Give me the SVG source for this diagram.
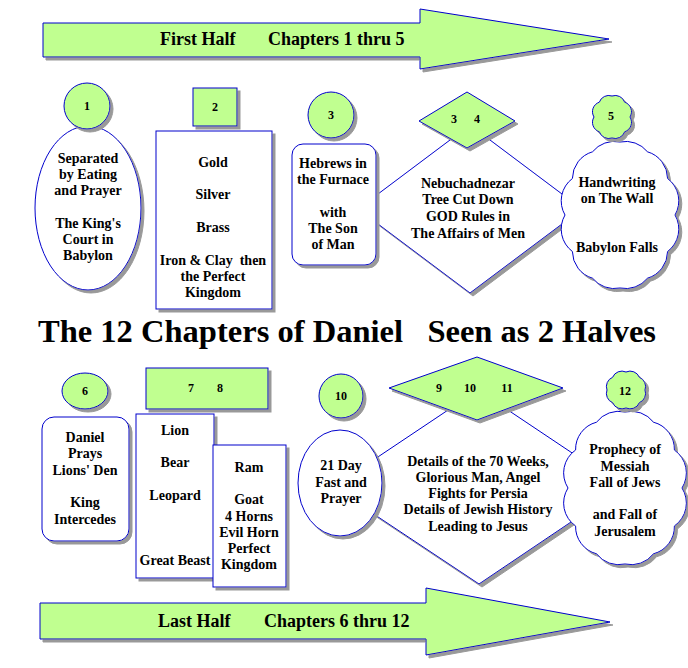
<svg xmlns="http://www.w3.org/2000/svg" width="688" height="668" viewBox="0 0 688 668">
<style>
.g{fill:#c0ff90;stroke:#0000cc;stroke-width:1;filter:url(#sh)}
.w{fill:#ffffff;stroke:#0000cc;stroke-width:1;filter:url(#sh)}
text{font-family:"Liberation Serif","Times New Roman",serif;font-weight:bold;fill:#000}
.t{font-size:14px;text-anchor:middle}
.n{font-size:12px;text-anchor:middle}
.a{font-size:18px}
</style>
<defs>
<filter id="sh" x="-10%" y="-10%" width="130%" height="130%">
<feOffset in="SourceAlpha" dx="3" dy="3" result="o"/>
<feFlood flood-color="#999999"/>
<feComposite in2="o" operator="in" result="s"/>
<feMerge><feMergeNode in="s"/><feMergeNode in="SourceGraphic"/></feMerge>
</filter>
</defs>
<rect width="688" height="668" fill="#ffffff"/>

<g id="arrow-first">
<path class="g" d="M43,23 H420 V9 L609,39 L420,69 V57 H43 Z"/>
<text class="a" x="160" y="45">First Half</text>
<text class="a" x="268" y="45">Chapters 1 thru 5</text>
</g>

<g id="node1">
<ellipse class="w" cx="88" cy="208" rx="53" ry="82"/>
<circle class="g" cx="87" cy="106" r="23"/>
<text class="n" x="87" y="110">1</text>
<text class="t" x="88" y="163">Separated</text>
<text class="t" x="88" y="179">by Eating</text>
<text class="t" x="88" y="195">and Prayer</text>
<text class="t" x="88" y="228">The King's</text>
<text class="t" x="88" y="244">Court in</text>
<text class="t" x="88" y="260">Babylon</text>
</g>

<g id="node2">
<rect class="g" x="193" y="88" width="44" height="38"/>
<text class="n" x="215" y="111">2</text>
<rect class="w" x="156" y="131" width="116" height="178"/>
<text class="t" x="213" y="167">Gold</text>
<text class="t" x="213" y="199">Silver</text>
<text class="t" x="213" y="232">Brass</text>
<text class="t" x="213" y="265" xml:space="preserve">Iron &amp; Clay  then</text>
<text class="t" x="213" y="281">the Perfect</text>
<text class="t" x="213" y="297">Kingdom</text>
</g>

<g id="node4">
<path class="w" d="M470,125 L582,209 L470,293 L358,209 Z"/>
<path class="g" d="M467,92 L515,121 L467,148 L419,121 Z"/>
<text class="n" x="454" y="123">3</text>
<text class="n" x="477" y="123">4</text>
<text class="t" x="468" y="188">Nebuchadnezar</text>
<text class="t" x="468" y="204">Tree Cut Down</text>
<text class="t" x="468" y="221">GOD Rules in</text>
<text class="t" x="468" y="238">The Affairs of Men</text>
</g>

<g id="node3">
<circle class="g" cx="331" cy="115" r="23"/>
<text class="n" x="331" y="119">3</text>
<rect class="w" x="292" y="144" width="84" height="121" rx="11" ry="11"/>
<text class="t" x="333" y="168">Hebrews in</text>
<text class="t" x="333" y="184">the Furnace</text>
<text class="t" x="333" y="217">with</text>
<text class="t" x="333" y="233">The Son</text>
<text class="t" x="333" y="249">of Man</text>
</g>

<g id="node5">
<path class="w" d="M620,142 A28,28 0 0 1 647.5,151.8 A28,28 0 0 1 667.6,178.5 A28,28 0 0 1 675,215 A28,28 0 0 1 667.6,251.5 A28,28 0 0 1 647.5,278.2 A28,28 0 0 1 620,288 A28,28 0 0 1 592.5,278.2 A28,28 0 0 1 572.4,251.5 A28,28 0 0 1 565,215 A28,28 0 0 1 572.4,178.5 A28,28 0 0 1 592.5,151.8 A28,28 0 0 1 620,142 Z"/>
<path class="g" d="M612,96 A10,10 0 0 1 624.7,102.2 A10,10 0 0 1 630,117 A10,10 0 0 1 624.7,131.8 A10,10 0 0 1 612,138 A10,10 0 0 1 599.3,131.8 A10,10 0 0 1 594,117 A10,10 0 0 1 599.3,102.2 A10,10 0 0 1 612,96 Z"/>
<text class="n" x="611" y="120">5</text>
<text class="t" x="617" y="187">Handwriting</text>
<text class="t" x="617" y="203">on The Wall</text>
<text class="t" x="617" y="252">Babylon Falls</text>
</g>

<g id="title">
<text x="38" y="342" font-size="32" textLength="618" lengthAdjust="spacingAndGlyphs">The 12 Chapters of Daniel<tspan xml:space="preserve">   </tspan>Seen as 2 Halves</text>
</g>

<g id="node6">
<ellipse class="g" cx="85" cy="391" rx="23" ry="18"/>
<text class="n" x="85" y="395">6</text>
<rect class="w" x="42" y="417" width="87" height="124" rx="12" ry="12"/>
<text class="t" x="85" y="442">Daniel</text>
<text class="t" x="85" y="458">Prays</text>
<text class="t" x="85" y="475">Lions' Den</text>
<text class="t" x="85" y="507">King</text>
<text class="t" x="85" y="524">Intercedes</text>
</g>

<g id="node7">
<rect class="g" x="146" y="368" width="122" height="41"/>
<text class="n" x="191" y="392">7</text>
<text class="n" x="220" y="392">8</text>
<rect class="w" x="136" y="414" width="78" height="164"/>
<text class="t" x="175" y="435">Lion</text>
<text class="t" x="175" y="467">Bear</text>
<text class="t" x="175" y="500">Leopard</text>
<text class="t" x="175" y="565">Great Beast</text>
</g>

<g id="node8">
<rect class="w" x="213" y="445" width="73" height="142"/>
<text class="t" x="249" y="472">Ram</text>
<text class="t" x="249" y="504">Goat</text>
<text class="t" x="249" y="521">4 Horns</text>
<text class="t" x="249" y="537">Evil Horn</text>
<text class="t" x="249" y="553">Perfect</text>
<text class="t" x="249" y="569">Kingdom</text>
</g>

<g id="node9-11">
<path class="w" d="M478,390 L623,487 L479,584 L333,487 Z"/>
<path class="g" d="M477,357 L563,388 L477,420 L389,388 Z"/>
<text class="n" x="439" y="392">9</text>
<text class="n" x="470" y="392">10</text>
<text class="n" x="507" y="392">11</text>
<text class="t" x="478" y="466">Details of the 70 Weeks,</text>
<text class="t" x="478" y="482">Glorious Man, Angel</text>
<text class="t" x="478" y="498">Fights for Persia</text>
<text class="t" x="478" y="514">Details of Jewish History</text>
<text class="t" x="478" y="531">Leading to Jesus</text>
</g>

<g id="node10">
<circle class="g" cx="341" cy="396" r="22"/>
<text class="n" x="341" y="400">10</text>
<ellipse class="w" cx="340" cy="483" rx="42" ry="53"/>
<text class="t" x="341" y="470">21 Day</text>
<text class="t" x="341" y="487">Fast and</text>
<text class="t" x="341" y="503">Prayer</text>
</g>

<g id="node12">
<path class="w" d="M625,412 A28,28 0 0 1 653.5,422.2 A28,28 0 0 1 674.4,450 A28,28 0 0 1 682,488 A28,28 0 0 1 674.4,526 A28,28 0 0 1 653.5,553.8 A28,28 0 0 1 625,564 A28,28 0 0 1 596.5,553.8 A28,28 0 0 1 575.6,526 A28,28 0 0 1 568,488 A28,28 0 0 1 575.6,450 A28,28 0 0 1 596.5,422.2 A28,28 0 0 1 625,412 Z"/>
<path class="g" d="M626,372 A10,10 0 0 1 639.4,377.3 A10,10 0 0 1 645,390 A10,10 0 0 1 639.4,402.7 A10,10 0 0 1 626,408 A10,10 0 0 1 612.6,402.7 A10,10 0 0 1 607,390 A10,10 0 0 1 612.6,377.3 A10,10 0 0 1 626,372 Z"/>
<text class="n" x="625" y="395">12</text>
<text class="t" x="625" y="454">Prophecy of</text>
<text class="t" x="625" y="471">Messiah</text>
<text class="t" x="625" y="487">Fall of Jews</text>
<text class="t" x="625" y="519">and Fall of</text>
<text class="t" x="625" y="536">Jerusalem</text>
</g>

<g id="arrow-last">
<path class="g" d="M40,603 H426 V588 L610,622 L426,655 V639 H40 Z"/>
<text class="a" x="158" y="627">Last Half</text>
<text class="a" x="264" y="627">Chapters 6 thru 12</text>
</g>
</svg>
